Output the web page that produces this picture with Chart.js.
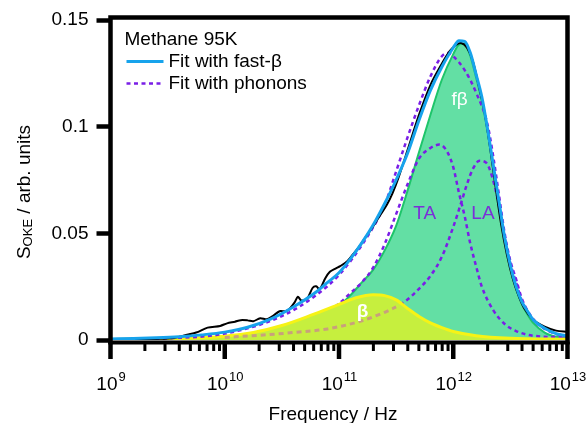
<!DOCTYPE html>
<html>
<head>
<meta charset="utf-8">
<script src="https://cdn.jsdelivr.net/npm/chart.js@4.4.0/dist/chart.umd.min.js"></script>
<style>
  html, body { margin: 0; padding: 0; background: #fff; }
</style>
</head>
<body>
<canvas id="okeChart" width="587" height="423"></canvas>
<script>
// log10(frequency / Hz) and S_OKE values
const dataLogF = [9.00, 9.20, 9.40, 9.55, 9.67, 9.75, 9.85, 9.96, 10.02, 10.09, 10.14, 10.20, 10.25, 10.31, 10.37, 10.42, 10.48, 10.53, 10.57, 10.61, 10.64, 10.67, 10.72, 10.77, 10.80, 10.83, 10.88, 10.92, 10.97, 11.01, 11.07, 11.12, 11.18, 11.24, 11.30, 11.36, 11.42, 11.47, 11.52, 11.60, 11.70, 11.80, 11.90, 11.97, 12.03, 12.07, 12.12, 12.17, 12.22, 12.27, 12.32, 12.37, 12.42, 12.47, 12.52, 12.57, 12.62, 12.70, 12.80, 12.90, 13.00];
const dataValues = [0.0003, 0.0003, 0.0005, 0.0009, 0.0025, 0.0035, 0.0058, 0.0066, 0.0078, 0.0086, 0.0093, 0.0092, 0.0088, 0.0102, 0.0097, 0.0112, 0.0135, 0.0135, 0.0148, 0.0175, 0.0203, 0.0185, 0.0193, 0.0245, 0.0252, 0.0238, 0.0290, 0.0320, 0.0335, 0.0346, 0.0368, 0.0400, 0.0440, 0.0488, 0.0533, 0.0585, 0.0635, 0.0690, 0.0760, 0.0890, 0.1055, 0.1195, 0.1295, 0.1355, 0.1385, 0.1392, 0.1370, 0.1310, 0.1200, 0.1080, 0.0910, 0.0720, 0.0540, 0.0400, 0.0290, 0.0210, 0.0150, 0.0095, 0.0062, 0.0044, 0.0038];

const fastBetaFitLogF = [9.0, 9.2, 9.4, 9.6, 9.8, 10.0, 10.2, 10.4, 10.6, 10.8, 10.9, 11.0, 11.1, 11.2, 11.3, 11.4, 11.5, 11.6, 11.7, 11.8, 11.9, 12.0, 12.05, 12.1, 12.15, 12.2, 12.25, 12.3, 12.35, 12.4, 12.45, 12.5, 12.55, 12.6, 12.65, 12.7, 12.8, 12.9, 13.0];
const fastBetaFit = [0.0005, 0.0007, 0.0010, 0.0015, 0.0024, 0.0037, 0.0060, 0.0098, 0.0155, 0.0225, 0.0270, 0.0315, 0.0380, 0.0455, 0.0540, 0.0640, 0.0750, 0.0875, 0.1030, 0.1170, 0.1280, 0.1370, 0.1403, 0.1400, 0.1345, 0.1245, 0.1140, 0.0990, 0.0820, 0.0650, 0.0480, 0.0350, 0.0250, 0.0180, 0.0135, 0.0095, 0.0055, 0.0030, 0.0019];

const phononFitLogF = [9.0, 9.5, 10.0, 10.5, 10.8, 11.0, 11.2, 11.4, 11.5, 11.6, 11.7, 11.8, 11.9, 11.95, 12.0, 12.1, 12.2, 12.3, 12.35, 12.4, 12.45, 12.5, 12.55, 12.6, 12.7, 12.8, 12.9, 13.0];
const phononFit = [0.0003, 0.0008, 0.0030, 0.0112, 0.0210, 0.0305, 0.0445, 0.0635, 0.0790, 0.0950, 0.1100, 0.1235, 0.1330, 0.1345, 0.1330, 0.1265, 0.1160, 0.1010, 0.0860, 0.0680, 0.0500, 0.0370, 0.0285, 0.0195, 0.0098, 0.0055, 0.0030, 0.0015];

const fastBetaLogF = [9.0, 10.0, 10.5, 10.8, 11.0, 11.1, 11.2, 11.3, 11.4, 11.5, 11.6, 11.7, 11.8, 11.9, 12.0, 12.05, 12.1, 12.15, 12.2, 12.25, 12.3, 12.35, 12.4, 12.45, 12.5, 12.55, 12.6, 12.65, 12.7, 12.8, 12.9, 13.0];
const fastBeta = [0.0001, 0.0010, 0.0045, 0.0100, 0.0160, 0.0210, 0.0270, 0.0330, 0.0420, 0.0535, 0.0700, 0.0880, 0.1055, 0.1220, 0.1340, 0.1385, 0.1390, 0.1330, 0.1230, 0.1120, 0.0980, 0.0810, 0.0640, 0.0470, 0.0340, 0.0240, 0.0170, 0.0120, 0.0080, 0.0035, 0.0015, 0.0007];

const betaLogF = [9.0, 9.5, 10.0, 10.25, 10.5, 10.75, 11.0, 11.15, 11.3, 11.4, 11.5, 11.6, 11.7, 11.8, 11.9, 12.0, 12.2, 12.5, 13.0];
const beta = [0.0002, 0.0006, 0.0018, 0.0035, 0.0068, 0.0115, 0.0167, 0.0198, 0.0212, 0.0208, 0.0188, 0.0148, 0.0110, 0.0080, 0.0058, 0.0040, 0.0020, 0.0008, 0.0003];

const taLogF = [10.8, 10.9, 11.0, 11.1, 11.2, 11.3, 11.4, 11.5, 11.6, 11.7, 11.8, 11.88, 11.95, 12.0, 12.05, 12.1, 12.15, 12.2, 12.25, 12.35, 12.45, 12.55, 12.7, 13.0];
const taPhonon = [0.0100, 0.0130, 0.0170, 0.0220, 0.0270, 0.0340, 0.0450, 0.0590, 0.0730, 0.0850, 0.0900, 0.0916, 0.0880, 0.0810, 0.0690, 0.0580, 0.0450, 0.0346, 0.0250, 0.0140, 0.0075, 0.0042, 0.0020, 0.0012];

const laLogF = [10.0, 10.3, 10.6, 10.9, 11.2, 11.4, 11.5, 11.6, 11.7, 11.8, 11.9, 12.0, 12.07, 12.12, 12.17, 12.23, 12.29, 12.34, 12.4, 12.45, 12.5, 12.55, 12.6, 12.7, 12.8, 12.9, 13.0];
const laPhonon = [0.0012, 0.0022, 0.0035, 0.0052, 0.0090, 0.0130, 0.0155, 0.0190, 0.0240, 0.0300, 0.0390, 0.0530, 0.0645, 0.0730, 0.0800, 0.0840, 0.0830, 0.0766, 0.0630, 0.0480, 0.0360, 0.0270, 0.0185, 0.0095, 0.0052, 0.0028, 0.0014];
const laHiddenPoints = 7; // LA tail lying under the β area (drawn brownish)

const xTickExponents = [9, 10, 11, 12, 13];
const xMinorMultipliers = [2, 3, 4, 5, 6, 7, 8, 9];
const yTicks = [0, 0.05, 0.1, 0.15];
const yTickLabels = ['0', '0.05', '0.1', '0.15'];

const legendTitle = 'Methane 95K';
const curveLabels = [
    { text: 'fβ', logF: 12.055, value: 0.1125, color: '#ffffff', bold: false },
    { text: 'TA', logF: 11.75, value: 0.0593, color: '#7b2fd8', bold: false },
    { text: 'LA', logF: 12.26, value: 0.0593, color: '#7b2fd8', bold: false },
    { text: 'β', logF: 11.206, value: 0.0131, color: '#ffffff', bold: true }
];

const FONT = "'Liberation Sans', Arial, Helvetica, sans-serif";
const BLUE = '#17a3ec';
const PURPLE = '#7a1ee6';

function toPoints(logF, values) {
    return logF.map((l, i) => ({ x: Math.pow(10, l), y: values[i] }));
}

// Khung, trục x, chú thích và nhãn
const decorations = {
    id: 'decorations',
    afterDraw(chart) {
        const { ctx, chartArea: a, scales: { x, y } } = chart;
        ctx.save();

        // frame
        ctx.strokeStyle = '#000';
        ctx.lineWidth = 4.5;
        ctx.lineCap = 'square';
        ctx.beginPath();
        ctx.moveTo(a.left, a.bottom + 2);
        ctx.lineTo(a.left, a.top - 2.5);
        ctx.lineTo(a.right, a.top - 2.5);
        ctx.lineTo(a.right, a.bottom + 2);
        ctx.stroke();
        ctx.lineCap = 'butt';
        ctx.lineWidth = 4;
        ctx.beginPath();
        ctx.moveTo(a.left - 2, a.bottom + 2.5);
        ctx.lineTo(a.right + 2, a.bottom + 2.5);
        ctx.stroke();

        // x ticks
        xTickExponents.forEach(e => {
            const px = x.getPixelForValue(Math.pow(10, e));
            ctx.lineWidth = 4.5;
            ctx.beginPath();
            ctx.moveTo(px, a.bottom + 2);
            ctx.lineTo(px, a.bottom + 19);
            ctx.stroke();
            if (e === xTickExponents[xTickExponents.length - 1]) return;
            xMinorMultipliers.forEach(m => {
                const mx = x.getPixelForValue(m * Math.pow(10, e));
                ctx.lineWidth = 3;
                ctx.beginPath();
                ctx.moveTo(mx, a.bottom + 2);
                ctx.lineTo(mx, a.bottom + 11);
                ctx.stroke();
            });
        });

        // x tick labels 10^n
        ctx.fillStyle = '#000';
        ctx.textBaseline = 'alphabetic';
        ctx.textAlign = 'left';
        xTickExponents.forEach(e => {
            const px = x.getPixelForValue(Math.pow(10, e));
            ctx.font = `19px ${FONT}`;
            const wBase = ctx.measureText('10').width;
            ctx.font = `13px ${FONT}`;
            const wExp = ctx.measureText(String(e)).width;
            const start = px - (wBase + wExp) / 2;
            ctx.font = `19px ${FONT}`;
            ctx.fillText('10', start, a.bottom + 50);
            ctx.font = `13px ${FONT}`;
            ctx.fillText(String(e), start + wBase + 1, a.bottom + 41);
        });

        // x title
        ctx.font = `19px ${FONT}`;
        ctx.textAlign = 'center';
        ctx.fillText('Frequency / Hz', (a.left + a.right) / 2 - 6, a.bottom + 80);

        // y title with subscript
        ctx.save();
        ctx.translate(29.5, 192);
        ctx.rotate(-Math.PI / 2);
        ctx.textAlign = 'left';
        const parts = [
            { t: 'S', size: 19, dy: 0 },
            { t: 'OKE', size: 13, dy: 2 },
            { t: ' / arb. units', size: 19, dy: 0 }
        ];
        let total = 0;
        parts.forEach(p => { ctx.font = `${p.size}px ${FONT}`; p.w = ctx.measureText(p.t).width; total += p.w; });
        let cx = -total / 2;
        parts.forEach(p => { ctx.font = `${p.size}px ${FONT}`; ctx.fillText(p.t, cx, p.dy); cx += p.w; });
        ctx.restore();

        // legend
        const lx = a.left + 14;
        ctx.textAlign = 'left';
        ctx.font = `19px ${FONT}`;
        ctx.fillText(legendTitle, lx, a.top + 25);
        const rows = [chart.data.datasets[0], chart.data.datasets[2]];
        rows.forEach((ds, i) => {
            const ry = a.top + 41.5 + i * 22;
            ctx.strokeStyle = ds.borderColor;
            ctx.lineWidth = ds.borderWidth;
            ctx.setLineDash(ds.borderDash || []);
            ctx.beginPath();
            ctx.moveTo(lx + 2, ry);
            ctx.lineTo(lx + 39, ry);
            ctx.stroke();
            ctx.setLineDash([]);
            ctx.fillText(ds.label, lx + 44, ry + 5.5);
        });

        // curve labels
        ctx.textAlign = 'center';
        ctx.textBaseline = 'middle';
        curveLabels.forEach(l => {
            ctx.font = `${l.bold ? 'bold ' : ''}19px ${FONT}`;
            ctx.fillStyle = l.color;
            ctx.fillText(l.text, x.getPixelForValue(Math.pow(10, l.logF)), y.getPixelForValue(l.value));
        });

        ctx.restore();
    }
};

const ctx = document.getElementById('okeChart').getContext('2d');
const okeChart = new Chart(ctx, {
    type: 'line',
    data: {
        datasets: [
            {
                label: 'Fit with fast-β',
                data: toPoints(fastBetaFitLogF, fastBetaFit),
                borderColor: BLUE,
                borderWidth: 3,
                fill: false,
                order: 0
            },
            {
                label: 'Data',
                data: toPoints(dataLogF, dataValues),
                borderColor: '#000000',
                borderWidth: 2,
                fill: false,
                cubicInterpolationMode: 'default',
                tension: 0.3,
                order: 1
            },
            {
                label: 'Fit with phonons',
                data: toPoints(phononFitLogF, phononFit),
                borderColor: PURPLE,
                borderWidth: 2.5,
                borderDash: [4, 3.5],
                fill: false,
                order: 2
            },
            {
                label: 'LA tail',
                data: toPoints(laLogF.slice(0, laHiddenPoints), laPhonon.slice(0, laHiddenPoints)),
                borderColor: '#c9a07c',
                borderWidth: 3,
                borderDash: [5, 4],
                fill: false,
                order: 3
            },
            {
                label: 'β',
                data: toPoints(betaLogF, beta),
                borderColor: '#f6f316',
                borderWidth: 3,
                backgroundColor: '#c6ef3e',
                fill: 'origin',
                order: 4
            },
            {
                label: 'TA',
                data: toPoints(taLogF, taPhonon),
                borderColor: PURPLE,
                borderWidth: 2.5,
                borderDash: [4, 3.5],
                fill: false,
                order: 5
            },
            {
                label: 'LA',
                data: toPoints(laLogF, laPhonon),
                borderColor: PURPLE,
                borderWidth: 2.5,
                borderDash: [4, 3.5],
                fill: false,
                order: 6
            },
            {
                label: 'fβ',
                data: toPoints(fastBetaLogF, fastBeta),
                borderColor: '#1ec56a',
                borderWidth: 2,
                backgroundColor: '#63dfa4',
                fill: 'origin',
                order: 7
            }
        ]
    },
    options: {
        responsive: false,
        animation: false,
        devicePixelRatio: 1,
        layout: {
            padding: { top: 20, right: 19.5, bottom: 83, left: 0 }
        },
        elements: {
            point: { radius: 0 },
            line: { cubicInterpolationMode: 'monotone' }
        },
        plugins: {
            legend: { display: false },
            tooltip: { enabled: false }
        },
        scales: {
            x: {
                type: 'logarithmic',
                min: 1e9,
                max: 1e13,
                display: false
            },
            y: {
                min: 0,
                max: 0.15,
                afterFit: function(scale) {
                    scale.width = 110.5;
                },
                afterBuildTicks: function(scale) {
                    scale.ticks = yTicks.map(v => ({ value: v }));
                },
                ticks: {
                    callback: function(value, index) {
                        return yTickLabels[index];
                    },
                    color: '#000',
                    padding: 8,
                    font: { size: 19, family: FONT }
                },
                grid: {
                    drawOnChartArea: false,
                    drawTicks: true,
                    tickLength: 14,
                    tickWidth: 4.5,
                    tickColor: '#000'
                },
                border: { display: false }
            }
        }
    },
    plugins: [decorations]
});
</script>
</body>
</html>
